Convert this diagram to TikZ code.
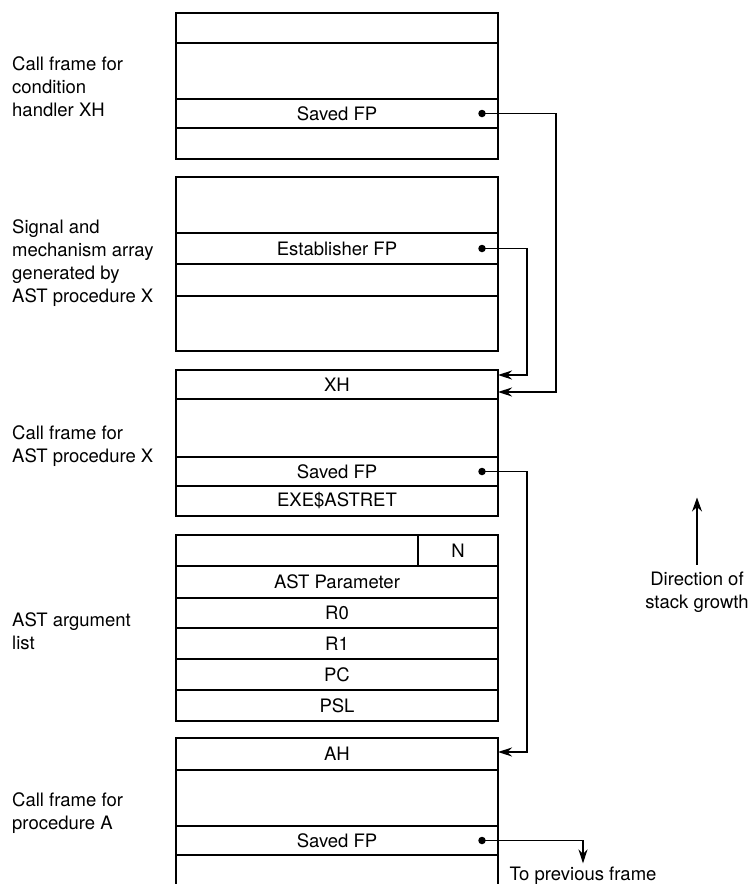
\documentclass[tikz,border=0pt]{standalone}
\usepackage{fontspec}
\setmainfont{TeX Gyre Heros}
\usetikzlibrary{arrows.meta, calc}
\newcommand{\lblfont}{\fontsize{18.5}{23}\selectfont}

\begin{document}
\begin{tikzpicture}[x=1pt, y=-1pt,
    cell/.style={draw, line width=1.5pt, minimum width=322pt, minimum height=#1,
                 inner sep=0pt, outer sep=0pt, font=\lblfont},
    lbl/.style={font=\lblfont, align=left, anchor=west, inner sep=0pt},
    ptr/.style={circle, fill, inner sep=0pt, minimum size=7.5pt},
    link/.style={line width=1.5pt, -{Stealth[length=14pt, width=9pt]}},
  ]
    \useasboundingbox (0,0) rectangle (752,884);

    % call frame for condition handler XH
    \node[cell=30pt] (f1a) at (337, 28.0) {};
    \node[cell=56pt] (f1b) at (337, 71.0) {};
    \node[cell=29pt] (f1c) at (337,113.5) {Saved FP};
    \node[cell=31pt] (f1d) at (337,143.5) {};
    \node[lbl] (l1) at (12, 87) {Call frame for\\condition\\handler XH};

    % signal and mechanism array
    \node[cell=56pt] (f2a) at (337,205.0) {};
    \node[cell=31pt] (f2b) at (337,248.5) {Establisher FP};
    \node[cell=32pt] (f2c) at (337,280.0) {};
    \node[cell=55pt] (f2d) at (337,323.5) {};
    \node[lbl] (l2) at (12,263) {Signal and\\mechanism array\\generated by\\AST procedure X};

    % call frame for AST procedure X
    \node[cell=29pt] (f3a) at (337,384.5) {XH};
    \node[cell=58pt] (f3b) at (337,428.0) {};
    \node[cell=29pt] (f3c) at (337,471.5) {Saved FP};
    \node[cell=30pt] (f3d) at (337,501.0) {EXE\$ASTRET};
    \node[lbl] (l3) at (12,446) {Call frame for\\AST procedure X};

    % AST argument list
    \node[cell=31pt, minimum width=242pt] (f4a) at (297,550.5) {};
    \node[cell=31pt, minimum width=80pt]  (f4n) at (458,550.5) {N};
    \node[cell=32pt] (f4b) at (337,582.0) {AST Parameter};
    \node[cell=30pt] (f4c) at (337,613.0) {R0};
    \node[cell=31pt] (f4d) at (337,643.5) {R1};
    \node[cell=31pt] (f4e) at (337,674.5) {PC};
    \node[cell=31pt] (f4f) at (337,705.5) {PSL};
    \node[lbl] (l4) at (12,631) {AST argument\\list};

    % call frame for procedure A
    \node[cell=32pt] (f5a) at (337,754.0) {AH};
    \node[cell=56pt] (f5b) at (337,798.0) {};
    \node[cell=29pt] (f5c) at (337,840.5) {Saved FP};
    \draw[line width=1.5pt] (f5c.south west) -- ++(0,29);
    \draw[line width=1.5pt] (f5c.south east) -- ++(0,29);
    \node[lbl] (l5) at (12,813) {Call frame for\\procedure A};

    % frame pointers
    \node[ptr] (p1) at (482,113.5) {};
    \node[ptr] (p2) at (482,248.5) {};
    \node[ptr] (p3) at (482,471.5) {};
    \node[ptr] (p4) at (482,840.5) {};
    \node[font=\lblfont, anchor=base] (prev) at (583,880.5) {To previous frame};

    \draw[link] (p1.center) -- ++(74,0) |- ([yshift=-7.5pt]f3a.east);
    \draw[link] (p2.center) -- ++(45,0) |- ([yshift=9.5pt]f3a.east);
    \draw[link] (p3.center) -- ++(45,0) |- ([yshift=2pt]f5a.east);
    \draw[link] (p4.center) -| (prev.north);

    % direction of growth
    \node[lbl, align=center, anchor=center] (dir) at (697,592) {Direction of\\stack growth};
    \draw[line width=1.5pt, -{Stealth[length=14pt, width=10pt]}] ([yshift=7pt]dir.north) -- ++(0,-67);
\end{tikzpicture}
\end{document}
